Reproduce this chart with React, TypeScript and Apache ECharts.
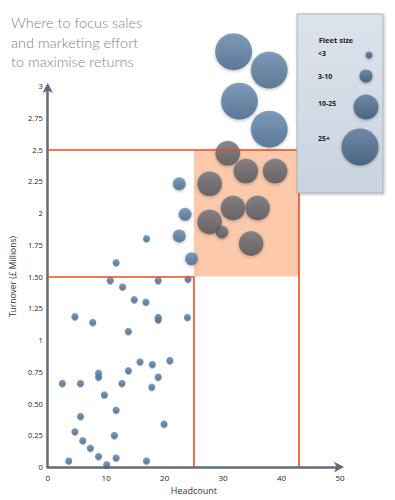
import React, { useEffect, useRef } from "react";
import * as echarts from "echarts";

// ---- data ----
const fleetCategories = ["<3", "3-10", "10-25", "25+"];
const fleetSymbolSizes = [7, 13, 25, 37];

// small fleets (<3)
const smallX = [11.7, 10.7, 18.9, 24.0, 12.8, 14.8, 16.8, 4.65, 7.7, 18.9, 18.9, 23.9, 13.8, 15.8, 17.9, 20.9, 13.8, 8.7, 8.7, 18.9, 2.5, 5.6, 12.7, 17.8, 9.7, 11.7, 5.6, 19.9, 4.65, 6.0, 11.4, 7.3, 8.7, 11.7, 3.6, 16.9, 10.1, 16.9];
const smallY = [1.61, 1.47, 1.47, 1.48, 1.42, 1.32, 1.3, 1.185, 1.14, 1.18, 1.16, 1.18, 1.07, 0.83, 0.81, 0.84, 0.76, 0.74, 0.71, 0.71, 0.66, 0.66, 0.66, 0.63, 0.57, 0.45, 0.4, 0.34, 0.28, 0.21, 0.25, 0.15, 0.086, 0.073, 0.05, 0.05, 0.02, 1.8];
// 3-10
const midX = [22.5, 23.5, 22.5, 24.6, 29.8];
const midY = [2.23, 1.99, 1.82, 1.64, 1.85];
// 10-25
const largeX = [30.8, 33.9, 38.9, 27.7, 31.7, 35.9, 27.7, 34.8];
const largeY = [2.47, 2.33, 2.33, 2.23, 2.04, 2.04, 1.93, 1.76];
// 25+
const hugeX = [31.8, 37.9, 32.8, 37.9];
const hugeY = [3.27, 3.125, 2.88, 2.66];

// focus zone and guide lines
const zoneX = [25, 43];
const zoneY = [1.5, 2.5];

const yTickLabels = ["0", "0.25", "0.50", "0.75", "1", "1.25", "1.50", "1.75", "2", "2.25", "2.5", "2.75", "3"];
const xTickLabels = ["0", "10", "20", "30", "40", "50"];

const titleLines = ["Where to focus sales", "and marketing effort", "to maximise returns"];

const blueGrad = () =>
  new echarts.graphic.LinearGradient(0, 0, 0, 1, [
    { offset: 0, color: "#6a8cae" },
    { offset: 1, color: "#42668a" },
  ]);
const grayGrad = () =>
  new echarts.graphic.LinearGradient(0, 0, 0, 1, [
    { offset: 0, color: "#74767e" },
    { offset: 1, color: "#52545c" },
  ]);

const inZone = (x: number, y: number) =>
  x >= zoneX[0] && x <= zoneX[1] && y >= zoneY[0] && y <= zoneY[1];

export default function App() {
  const ref = useRef<HTMLDivElement>(null);
  useEffect(() => {
    if (!ref.current) return;
    const chart = echarts.init(ref.current, null, { renderer: "svg" });
    const groups = [
      [smallX, smallY],
      [midX, midY],
      [largeX, largeY],
      [hugeX, hugeY],
    ];
    const red = "#f04a22";
    const scatterSeries = groups.map(([xs, ys], gi) => ({
      type: "scatter",
      name: fleetCategories[gi],
      symbolSize: fleetSymbolSizes[gi],
      clip: false,
      z: 3,
      data: xs.map((x, i) => ({
        value: [x, ys[i]],
        itemStyle: {
          color: inZone(x, ys[i]) ? grayGrad() : blueGrad(),
          shadowBlur: gi === 0 ? 1 : 3,
          shadowColor: "rgba(0,0,0,0.35)",
          shadowOffsetY: 1,
          borderColor: "rgba(255,255,255,0.25)",
          borderWidth: gi === 0 ? 0 : 0.5,
        },
      })),
    }));

    const legendX = 297;
    const legendY = 14;
    const legendCircles = [
      { cx: 369, cy: 55 },
      { cx: 366, cy: 76 },
      { cx: 366, cy: 107 },
      { cx: 360, cy: 147 },
    ];
    const legendTextY = [53, 76, 103, 138];

    chart.setOption({
      animation: false,
      title: {
        text: titleLines.join("\n"),
        left: 11,
        top: 13,
        padding: 0,
        textStyle: {
          fontFamily: "Lato",
          fontWeight: 300,
          fontSize: 14.5,
          lineHeight: 19.5,
          color: "#80838a",
        },
      },
      grid: { left: 40, right: 55, top: 86, bottom: 30 },
      xAxis: {
        type: "value",
        min: 0,
        max: 50,
        interval: 10,
        name: "Headcount",
        nameLocation: "middle",
        nameGap: 15,
        nameTextStyle: { fontSize: 9, color: "#333", fontFamily: "Open Sans" },
        axisLine: {
          show: true,
          lineStyle: { color: "#5f6d7b", width: 2.5 },
          symbol: ["none", "arrow"],
          symbolSize: [8, 10],
          symbolOffset: [0, 4],
        },
        axisTick: { show: false },
        splitLine: { show: false },
        axisLabel: {
          fontSize: 8,
          color: "#222",
          margin: 6,
          fontFamily: "Open Sans",
          formatter: (v: number) => xTickLabels[Math.round(v / 10)] ?? "",
        },
      },
      yAxis: {
        type: "value",
        min: 0,
        max: 3,
        interval: 0.25,
        name: "Turnover (£ Millions)",
        nameLocation: "middle",
        nameGap: 30,
        nameTextStyle: { fontSize: 8.5, color: "#333", fontFamily: "Open Sans" },
        axisLine: {
          show: true,
          lineStyle: { color: "#5f6d7b", width: 2.5 },
          symbol: ["none", "arrow"],
          symbolSize: [8, 10],
          symbolOffset: [0, 3],
        },
        axisTick: { show: false },
        splitLine: { show: false },
        axisLabel: {
          fontSize: 7.5,
          color: "#222",
          margin: 5,
          fontFamily: "Open Sans",
          formatter: (v: number) => yTickLabels[Math.round(v / 0.25)] ?? "",
        },
      },
      series: [
        {
          type: "scatter",
          data: [],
          z: 1,
          silent: true,
          markArea: {
            silent: true,
            itemStyle: { color: "#fcc9aa" },
            data: [[{ coord: [zoneX[0], zoneY[0]] }, { coord: [zoneX[1], zoneY[1]] }]],
          },
          markLine: {
            silent: true,
            symbol: "none",
            label: { show: false },
            lineStyle: { color: red, width: 1.6, type: "solid" },
            data: [
              [{ coord: [0, zoneY[1]] }, { coord: [zoneX[1], zoneY[1]] }],
              [{ coord: [zoneX[1], zoneY[1]] }, { coord: [zoneX[1], 0] }],
              [{ coord: [0, zoneY[0]] }, { coord: [zoneX[0], zoneY[0]] }],
              [{ coord: [zoneX[0], zoneY[0]] }, { coord: [zoneX[0], 0] }],
            ],
          },
        },
        ...scatterSeries,
      ],
      graphic: [
        {
          type: "rect",
          shape: { x: legendX, y: legendY, width: 86, height: 179 },
          z: 10,
          style: {
            fill: new echarts.graphic.LinearGradient(0, 0, 0, 1, [
              { offset: 0, color: "#dde3ec" },
              { offset: 1, color: "#c9d3df" },
            ]),
            stroke: "#a9b3c0",
            lineWidth: 1,
            shadowBlur: 3,
            shadowColor: "rgba(0,0,0,0.25)",
            shadowOffsetX: 1,
            shadowOffsetY: 1,
          },
        },
        {
          type: "text",
          z: 11,
          style: {
            text: "Fleet size",
            x: 336,
            y: 40,
            align: "center",
            verticalAlign: "middle",
            fontSize: 7.5,
            fontWeight: "bold",
            fontFamily: "Open Sans",
            fill: "#222",
          },
        },
        ...fleetCategories.map((c, i) => ({
          type: "text",
          z: 11,
          style: {
            text: c,
            x: 318,
            y: legendTextY[i],
            align: "left",
            verticalAlign: "middle",
            fontSize: 7,
            fontWeight: "bold",
            fontFamily: "Open Sans",
            fill: "#222",
          },
        })),
        ...legendCircles.map((p, i) => ({
          type: "circle",
          z: 11,
          shape: { cx: p.cx, cy: p.cy, r: fleetSymbolSizes[i] / 2 },
          style: {
            fill: new echarts.graphic.LinearGradient(0, 0, 0, 1, [
              { offset: 0, color: "#6f8aa6" },
              { offset: 1, color: "#4a6582" },
            ]),
            shadowBlur: 3,
            shadowColor: "rgba(0,0,0,0.3)",
            shadowOffsetY: 1,
          },
        })),
      ],
    });
    return () => chart.dispose();
  }, []);
  return (
    <div
      ref={ref}
      style={{ position: "absolute", left: 0, top: 0, width: 395, height: 500, background: "#fff" }}
    />
  );
}
